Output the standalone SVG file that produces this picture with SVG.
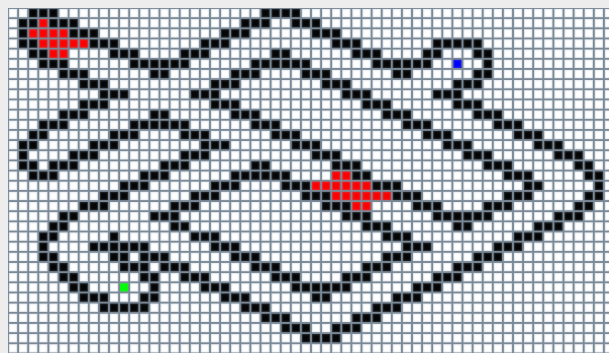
<svg xmlns="http://www.w3.org/2000/svg" width="609" height="353" viewBox="0 0 609 353">
<defs>
<pattern id="grid" x="0" y="0" width="1" height="1" patternUnits="userSpaceOnUse">
<path d="M0 0H1V1H0Z M0.1 0.1V0.9H0.9V0.1Z" fill="#7b8997" fill-rule="evenodd"/>
<path d="M0.1 0.1H0.9V0.9H0.1Z M0.2 0.2V0.8H0.8V0.2Z" fill="#8aa0b8" fill-opacity="0.18" fill-rule="evenodd"/>
</pattern>
</defs>
<style>
.k{fill:#050505}
.r{fill:#ff0000}
.b{fill:#0000ff}
.g{fill:#00ff00}
</style>
<rect width="609" height="353" fill="#ededed"/>
<g id="board" transform="translate(8,8) scale(10.1,10.16)">
<rect width="60" height="34" fill="#ffffff"/>
<g id="cells">
<rect class="k" x="2" y="0" width="3" height="1"/><rect class="k" x="25" y="0" width="4" height="1"/>
<rect class="k" x="1" y="1" width="2" height="1"/><rect class="r" x="3" y="1" width="1" height="1"/><rect class="k" x="4" y="1" width="3" height="1"/><rect class="k" x="23" y="1" width="3" height="1"/><rect class="k" x="28" y="1" width="3" height="1"/>
<rect class="k" x="1" y="2" width="1" height="1"/><rect class="r" x="2" y="2" width="4" height="1"/><rect class="k" x="6" y="2" width="3" height="1"/><rect class="k" x="21" y="2" width="3" height="1"/><rect class="k" x="30" y="2" width="3" height="1"/>
<rect class="k" x="1" y="3" width="2" height="1"/><rect class="r" x="3" y="3" width="5" height="1"/><rect class="k" x="8" y="3" width="3" height="1"/><rect class="k" x="19" y="3" width="3" height="1"/><rect class="k" x="32" y="3" width="3" height="1"/><rect class="k" x="42" y="3" width="5" height="1"/>
<rect class="k" x="2" y="4" width="2" height="1"/><rect class="r" x="4" y="4" width="2" height="1"/><rect class="k" x="10" y="4" width="3" height="1"/><rect class="k" x="17" y="4" width="3" height="1"/><rect class="k" x="26" y="4" width="2" height="1"/><rect class="k" x="34" y="4" width="3" height="1"/><rect class="k" x="41" y="4" width="2" height="1"/><rect class="k" x="46" y="4" width="2" height="1"/>
<rect class="k" x="3" y="5" width="3" height="1"/><rect class="k" x="12" y="5" width="6" height="1"/><rect class="k" x="24" y="5" width="6" height="1"/><rect class="k" x="36" y="5" width="6" height="1"/><rect class="b" x="44" y="5" width="1" height="1"/><rect class="k" x="47" y="5" width="1" height="1"/>
<rect class="k" x="5" y="6" width="3" height="1"/><rect class="k" x="14" y="6" width="2" height="1"/><rect class="k" x="22" y="6" width="3" height="1"/><rect class="k" x="29" y="6" width="3" height="1"/><rect class="k" x="38" y="6" width="2" height="1"/><rect class="k" x="46" y="6" width="2" height="1"/>
<rect class="k" x="7" y="7" width="3" height="1"/><rect class="k" x="20" y="7" width="3" height="1"/><rect class="k" x="31" y="7" width="3" height="1"/><rect class="k" x="44" y="7" width="3" height="1"/>
<rect class="k" x="9" y="8" width="3" height="1"/><rect class="k" x="18" y="8" width="3" height="1"/><rect class="k" x="33" y="8" width="3" height="1"/><rect class="k" x="42" y="8" width="3" height="1"/>
<rect class="k" x="7" y="9" width="3" height="1"/><rect class="k" x="20" y="9" width="3" height="1"/><rect class="k" x="35" y="9" width="3" height="1"/><rect class="k" x="44" y="9" width="3" height="1"/>
<rect class="k" x="5" y="10" width="3" height="1"/><rect class="k" x="14" y="10" width="2" height="1"/><rect class="k" x="22" y="10" width="3" height="1"/><rect class="k" x="37" y="10" width="3" height="1"/><rect class="k" x="46" y="10" width="3" height="1"/>
<rect class="k" x="3" y="11" width="3" height="1"/><rect class="k" x="12" y="11" width="6" height="1"/><rect class="k" x="24" y="11" width="3" height="1"/><rect class="k" x="39" y="11" width="3" height="1"/><rect class="k" x="48" y="11" width="3" height="1"/>
<rect class="k" x="2" y="12" width="2" height="1"/><rect class="k" x="10" y="12" width="3" height="1"/><rect class="k" x="17" y="12" width="3" height="1"/><rect class="k" x="26" y="12" width="3" height="1"/><rect class="k" x="41" y="12" width="3" height="1"/><rect class="k" x="50" y="12" width="3" height="1"/>
<rect class="k" x="1" y="13" width="2" height="1"/><rect class="k" x="8" y="13" width="3" height="1"/><rect class="k" x="19" y="13" width="3" height="1"/><rect class="k" x="28" y="13" width="3" height="1"/><rect class="k" x="43" y="13" width="3" height="1"/><rect class="k" x="52" y="13" width="3" height="1"/>
<rect class="k" x="1" y="14" width="1" height="1"/><rect class="k" x="6" y="14" width="3" height="1"/><rect class="k" x="17" y="14" width="3" height="1"/><rect class="k" x="30" y="14" width="3" height="1"/><rect class="k" x="45" y="14" width="3" height="1"/><rect class="k" x="54" y="14" width="3" height="1"/>
<rect class="k" x="1" y="15" width="2" height="1"/><rect class="k" x="4" y="15" width="3" height="1"/><rect class="k" x="15" y="15" width="3" height="1"/><rect class="k" x="24" y="15" width="2" height="1"/><rect class="k" x="32" y="15" width="3" height="1"/><rect class="k" x="47" y="15" width="3" height="1"/><rect class="k" x="56" y="15" width="2" height="1"/>
<rect class="k" x="2" y="16" width="3" height="1"/><rect class="k" x="13" y="16" width="3" height="1"/><rect class="k" x="22" y="16" width="6" height="1"/><rect class="r" x="32" y="16" width="2" height="1"/><rect class="k" x="34" y="16" width="2" height="1"/><rect class="k" x="49" y="16" width="3" height="1"/><rect class="k" x="57" y="16" width="2" height="1"/>
<rect class="k" x="11" y="17" width="3" height="1"/><rect class="k" x="20" y="17" width="3" height="1"/><rect class="k" x="27" y="17" width="3" height="1"/><rect class="r" x="30" y="17" width="6" height="1"/><rect class="k" x="36" y="17" width="3" height="1"/><rect class="k" x="51" y="17" width="2" height="1"/><rect class="k" x="58" y="17" width="1" height="1"/>
<rect class="k" x="9" y="18" width="3" height="1"/><rect class="k" x="18" y="18" width="3" height="1"/><rect class="k" x="29" y="18" width="3" height="1"/><rect class="r" x="32" y="18" width="6" height="1"/><rect class="k" x="38" y="18" width="3" height="1"/><rect class="k" x="49" y="18" width="3" height="1"/><rect class="k" x="57" y="18" width="2" height="1"/>
<rect class="k" x="7" y="19" width="3" height="1"/><rect class="k" x="16" y="19" width="3" height="1"/><rect class="k" x="31" y="19" width="3" height="1"/><rect class="r" x="34" y="19" width="2" height="1"/><rect class="k" x="40" y="19" width="3" height="1"/><rect class="k" x="47" y="19" width="3" height="1"/><rect class="k" x="56" y="19" width="2" height="1"/>
<rect class="k" x="5" y="20" width="2" height="1"/><rect class="k" x="14" y="20" width="3" height="1"/><rect class="k" x="33" y="20" width="3" height="1"/><rect class="k" x="42" y="20" width="6" height="1"/><rect class="k" x="54" y="20" width="3" height="1"/>
<rect class="k" x="4" y="21" width="2" height="1"/><rect class="k" x="16" y="21" width="2" height="1"/><rect class="k" x="35" y="21" width="3" height="1"/><rect class="k" x="44" y="21" width="2" height="1"/><rect class="k" x="52" y="21" width="3" height="1"/>
<rect class="k" x="3" y="22" width="2" height="1"/><rect class="k" x="10" y="22" width="1" height="1"/><rect class="k" x="18" y="22" width="3" height="1"/><rect class="k" x="37" y="22" width="3" height="1"/><rect class="k" x="50" y="22" width="3" height="1"/>
<rect class="k" x="3" y="23" width="1" height="1"/><rect class="k" x="8" y="23" width="6" height="1"/><rect class="k" x="20" y="23" width="3" height="1"/><rect class="k" x="39" y="23" width="3" height="1"/><rect class="k" x="48" y="23" width="3" height="1"/>
<rect class="k" x="3" y="24" width="2" height="1"/><rect class="k" x="10" y="24" width="2" height="1"/><rect class="k" x="13" y="24" width="3" height="1"/><rect class="k" x="22" y="24" width="3" height="1"/><rect class="k" x="37" y="24" width="3" height="1"/><rect class="k" x="46" y="24" width="3" height="1"/>
<rect class="k" x="4" y="25" width="2" height="1"/><rect class="k" x="11" y="25" width="3" height="1"/><rect class="k" x="15" y="25" width="3" height="1"/><rect class="k" x="24" y="25" width="3" height="1"/><rect class="k" x="35" y="25" width="3" height="1"/><rect class="k" x="44" y="25" width="3" height="1"/>
<rect class="k" x="5" y="26" width="2" height="1"/><rect class="k" x="13" y="26" width="2" height="1"/><rect class="k" x="17" y="26" width="3" height="1"/><rect class="k" x="26" y="26" width="3" height="1"/><rect class="k" x="33" y="26" width="3" height="1"/><rect class="k" x="42" y="26" width="3" height="1"/>
<rect class="k" x="6" y="27" width="2" height="1"/><rect class="g" x="11" y="27" width="1" height="1"/><rect class="k" x="14" y="27" width="1" height="1"/><rect class="k" x="19" y="27" width="3" height="1"/><rect class="k" x="28" y="27" width="6" height="1"/><rect class="k" x="40" y="27" width="3" height="1"/>
<rect class="k" x="7" y="28" width="3" height="1"/><rect class="k" x="13" y="28" width="2" height="1"/><rect class="k" x="21" y="28" width="3" height="1"/><rect class="k" x="30" y="28" width="2" height="1"/><rect class="k" x="38" y="28" width="3" height="1"/>
<rect class="k" x="9" y="29" width="5" height="1"/><rect class="k" x="23" y="29" width="3" height="1"/><rect class="k" x="36" y="29" width="3" height="1"/>
<rect class="k" x="25" y="30" width="3" height="1"/><rect class="k" x="34" y="30" width="3" height="1"/>
<rect class="k" x="27" y="31" width="3" height="1"/><rect class="k" x="32" y="31" width="3" height="1"/>
<rect class="k" x="29" y="32" width="4" height="1"/>
</g>
<rect id="gridlines" width="60" height="34" fill="url(#grid)"/>
</g>
</svg>
